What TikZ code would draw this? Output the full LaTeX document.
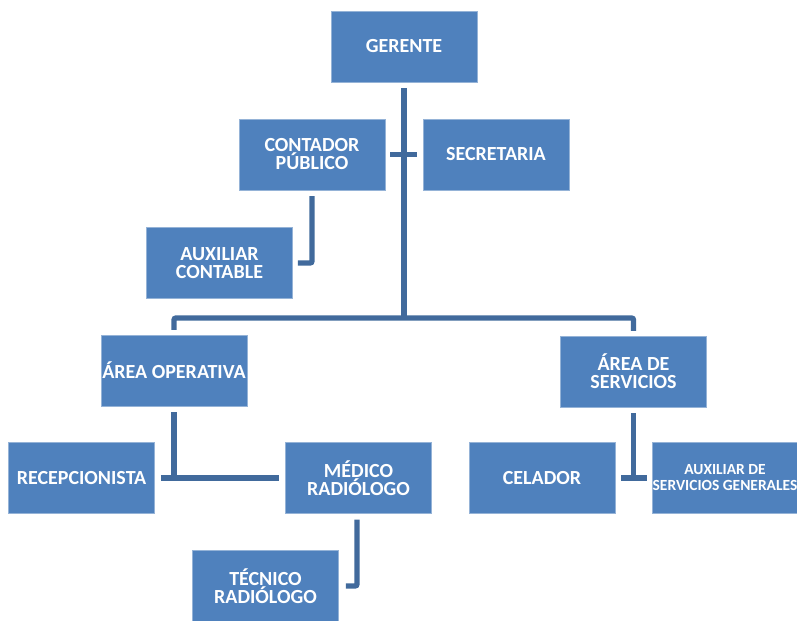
\documentclass[tikz,border=0pt]{standalone}
\usepackage{fontspec}
\setmainfont{Carlito}
\usetikzlibrary{calc}
\definecolor{boxblue}{RGB}{79,129,189}
\definecolor{lineblue}{RGB}{65,106,156}
\tikzset{
  orgbox/.style={fill=boxblue, draw=boxblue!60!white, line width=0.4pt,
    minimum width=109.5pt, minimum height=53pt, inner sep=0pt,
    align=center, text=white, font=\bfseries\fontsize{15pt}{13.5pt}\selectfont},
  smalltext/.style={font=\bfseries\fontsize{11.6pt}{12pt}\selectfont},
  conn/.style={draw=lineblue, line width=4pt, rounded corners=1.5pt}
}
\begin{document}
\begin{tikzpicture}[x=0.75pt,y=-0.75pt]
\clip (0,0) rectangle (797,621);
\fill[white] (0,0) rectangle (797,621);
\node[orgbox] (gerente)    at (404,46.5)  {GERENTE};
\node[orgbox] (contador)   at (312,154.5) {CONTADOR\\P\'UBLICO};
\node[orgbox] (secretaria) at (496,154.5) {SECRETARIA};
\node[orgbox] (auxcont)    at (219.5,263) {AUXILIAR\\CONTABLE};
\node[orgbox] (areaop)     at (174,370.5) {\'AREA OPERATIVA};
\node[orgbox] (areaserv)   at (633.5,371.5) {\'AREA DE\\SERVICIOS};
\node[orgbox] (recep)      at (81.5,478)  {RECEPCIONISTA};
\node[orgbox] (medico)     at (358.5,478) {M\'EDICO\\RADI\'OLOGO};
\node[orgbox] (tecnico)    at (265.5,586) {T\'ECNICO\\RADI\'OLOGO};
\node[orgbox] (celador)    at (542,478)   {CELADOR};
\node[orgbox,smalltext] (auxserv) at (725,478) {AUXILIAR DE\\SERVICIOS GENERALES};
\coordinate (bar) at (404,318);
% trunk
\draw[conn] ($(gerente.south)+(0,6)$) -- (bar);
\draw[conn] ($(areaop.north)+(0,-5)$) |- (bar) -| ($(areaserv.north)+(0,-5)$);
\draw[conn] ($(contador.east)+(5,0)$) -- ($(secretaria.west)+(-6,0)$);
\draw[conn] ($(contador.south)+(0,6)$) |- ($(auxcont.east)+(5,0)$);
% operativa
\draw[conn] ($(areaop.south)+(0,6)$) -- (areaop.south |- recep.east);
\draw[conn] ($(recep.east)+(6,0)$) -- ($(medico.west)+(-6,0)$);
\draw[conn] ($(medico.south)+(-1.5,6)$) |- ($(tecnico.east)+(7,0)$);
% servicios
\draw[conn] ($(areaserv.south)+(0,6)$) -- (areaserv.south |- celador.east);
\draw[conn] ($(celador.east)+(6,0)$) -- ($(auxserv.west)+(-5,0)$);
\end{tikzpicture}
\end{document}
